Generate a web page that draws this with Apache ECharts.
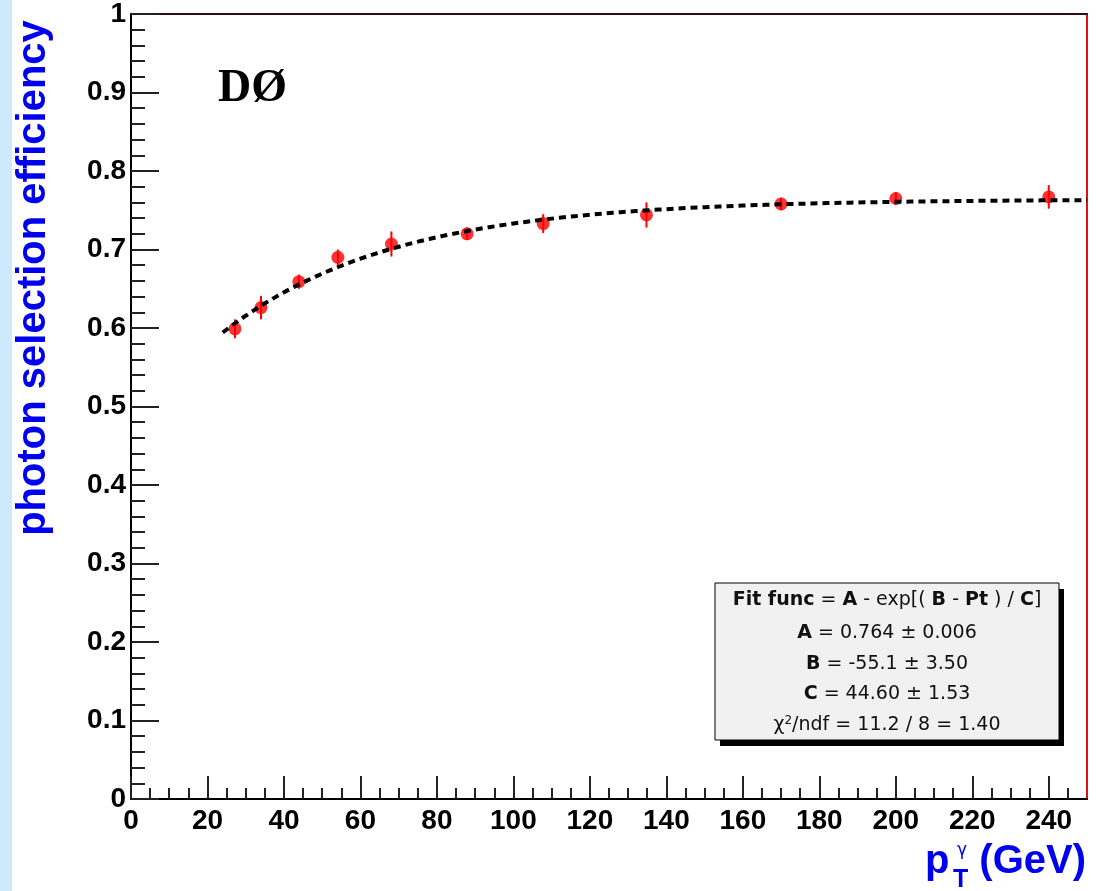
<!DOCTYPE html>
<html>
<head>
<meta charset="utf-8">
<title>Photon selection efficiency vs pT</title>
<script src="https://cdn.jsdelivr.net/npm/echarts@6/dist/echarts.min.js"></script>
<style>
  html, body { margin: 0; padding: 0; background: #ffffff; }
  #chart { width: 1096px; height: 891px; }
</style>
</head>
<body>
<div id="chart"></div>
<script>
// Measured photon selection efficiency per pT bin
const ptValues = [27.2, 34.0, 43.9, 54.1, 68.1, 87.9, 107.8, 134.8, 170.0, 200.0, 240.0];
const effValues = [0.599, 0.626, 0.659, 0.690, 0.707, 0.720, 0.733, 0.744, 0.758, 0.765, 0.767];
const effErrors = [0.012, 0.015, 0.009, 0.010, 0.016, 0.008, 0.012, 0.016, 0.008, 0.008, 0.015];

// Fit result: eff = A - exp((B - Pt) / C)
const fitNames = ['A', 'B', 'C'];
const fitValues = [0.764, -55.1, 44.60];
const fitErrors = ['0.006', '3.50', '1.53'];
const fitValueText = ['0.764', '-55.1', '44.60'];
const fitChi2 = '11.2', fitNdf = '8', fitChi2Ndf = '1.40';
const fitRange = [24, 250];

// Axis ticks
const xMajorTicks = [0, 20, 40, 60, 80, 100, 120, 140, 160, 180, 200, 220, 240];
const yMajorTicks = [0, 0.1, 0.2, 0.3, 0.4, 0.5, 0.6, 0.7, 0.8, 0.9, 1];

const xMinorTicks = [];
for (let v = 5; v < 250; v += 5) if (v % 20 !== 0) xMinorTicks.push(v);
const yMinorTicks = [];
for (let i = 1; i < 50; i++) if (i % 5 !== 0) yMinorTicks.push(+(i * 0.02).toFixed(2));

// Fit curve from the fitted parameters
const [A, B, C] = fitValues;
const fitCurve = [];
for (let x = fitRange[0]; x <= fitRange[1]; x += 2) {
  fitCurve.push([x, A - Math.exp((B - x) / C)]);
}

const points = ptValues.map((x, i) => [x, effValues[i]]);
const errorBars = ptValues.map((x, i) => [x, effValues[i] - effErrors[i], effValues[i] + effErrors[i]]);

const tickFont = { fontFamily: 'Liberation Sans', fontWeight: 'bold', fontSize: 28, color: '#000' };
const tickColor = '#222';

const chart = echarts.init(document.getElementById('chart'), null, { renderer: 'canvas' });

const boxX = 715, boxY = 583, boxW = 344, boxH = 157, boxCx = boxX + boxW / 2;
const statLines = [
  '{b|Fit func} = {b|A} - exp[( {b|B} - {b|Pt} ) / {b|C}]'
].concat(fitNames.map((n, i) => '{b|' + n + '} = ' + fitValueText[i] + ' \u00b1 ' + fitErrors[i]))
 .concat(['\u03c7{sup|2}/ndf = ' + fitChi2 + ' / ' + fitNdf + ' = ' + fitChi2Ndf]);
const statY = [600, 633, 664, 694, 725];
const statRich = {
  b: { fontFamily: 'DejaVu Sans', fontWeight: 'bold', fontSize: 19, fill: '#111' },
  sup: { fontFamily: 'DejaVu Sans', fontSize: 12, fill: '#111', verticalAlign: 'top', padding: [0, 0, 8, 0] }
};

const blue = '#0000f0';

const option = {
  animation: false,
  backgroundColor: '#ffffff',
  grid: {
    left: 131, right: 9, top: 12, bottom: 92,
    show: true, borderColor: '#e01010', borderWidth: 2, backgroundColor: '#ffffff'
  },
  xAxis: [
    {
      type: 'value', min: 0, max: 250, position: 'bottom',
      axisLine: { show: true, onZero: false, lineStyle: { color: '#000', width: 2 } },
      axisTick: { show: true, inside: true, length: 23, customValues: xMajorTicks, lineStyle: { color: tickColor, width: 2 } },
      axisLabel: Object.assign({ customValues: xMajorTicks, margin: 8 }, tickFont),
      splitLine: { show: false }
    },
    {
      type: 'value', min: 0, max: 250, position: 'bottom',
      axisLine: { show: false },
      axisTick: { show: true, inside: true, length: 11, customValues: xMinorTicks, lineStyle: { color: tickColor, width: 2 } },
      axisLabel: { show: false },
      splitLine: { show: false }
    },
    {
      type: 'value', min: 0, max: 250, position: 'top',
      axisLine: { show: true, onZero: false, lineStyle: { color: '#2a1010', width: 2 } },
      axisTick: { show: false }, axisLabel: { show: false }, splitLine: { show: false }
    }
  ],
  yAxis: [
    {
      type: 'value', min: 0, max: 1, position: 'left',
      axisLine: { show: true, onZero: false, lineStyle: { color: '#000', width: 2 } },
      axisTick: { show: true, inside: true, length: 28, customValues: yMajorTicks, lineStyle: { color: tickColor, width: 2 } },
      axisLabel: Object.assign({ customValues: yMajorTicks, margin: 5, formatter: v => String(+v.toFixed(1)) }, tickFont),
      splitLine: { show: false }
    },
    {
      type: 'value', min: 0, max: 1, position: 'left',
      axisLine: { show: false },
      axisTick: { show: true, inside: true, length: 14, customValues: yMinorTicks, lineStyle: { color: tickColor, width: 2 } },
      axisLabel: { show: false },
      splitLine: { show: false }
    }
  ],
  series: [
    {
      type: 'custom',
      name: 'errors',
      xAxisIndex: 0, yAxisIndex: 0,
      data: errorBars,
      z: 3,
      renderItem: function (params, api) {
        const lo = api.coord([api.value(0), api.value(1)]);
        const hi = api.coord([api.value(0), api.value(2)]);
        return {
          type: 'line',
          shape: { x1: lo[0], y1: lo[1], x2: hi[0], y2: hi[1] },
          style: { stroke: '#ff0000', lineWidth: 2 }
        };
      }
    },
    {
      type: 'scatter',
      name: 'efficiency',
      xAxisIndex: 0, yAxisIndex: 0,
      data: points,
      symbol: 'circle', symbolSize: 13,
      itemStyle: { color: '#ff0000' },
      z: 4
    },
    {
      type: 'line',
      name: 'fit',
      xAxisIndex: 0, yAxisIndex: 0,
      data: fitCurve,
      showSymbol: false, symbol: 'none',
      lineStyle: { color: '#000', width: 4, type: [7, 5], cap: 'butt' },
      z: 5
    }
  ],
  graphic: [
    { type: 'rect', shape: { x: 0, y: 0, width: 12, height: 891 }, style: { fill: '#cde9fb' }, z: 0 },
    {
      type: 'text', x: 34, y: 278, rotation: Math.PI / 2,
      style: {
        text: 'photon selection efficiency', align: 'center', verticalAlign: 'middle',
        fontFamily: 'Liberation Sans', fontWeight: 'bold', fontSize: 40, fill: blue
      }
    },
    {
      type: 'text', x: 218, y: 89,
      style: {
        text: 'D\u00d8', align: 'left', verticalAlign: 'middle',
        fontFamily: 'Liberation Serif', fontWeight: 'bold', fontSize: 46, fill: '#000'
      }
    },
    {
      type: 'text', x: 925, y: 862,
      style: { text: 'p', align: 'left', verticalAlign: 'middle', fontFamily: 'Liberation Sans', fontWeight: 'bold', fontSize: 40, fill: blue }
    },
    {
      type: 'text', x: 957, y: 851,
      style: { text: '\u03b3', align: 'left', verticalAlign: 'middle', fontFamily: 'DejaVu Sans', fontSize: 17, fill: blue }
    },
    {
      type: 'text', x: 953, y: 880,
      style: { text: 'T', align: 'left', verticalAlign: 'middle', fontFamily: 'Liberation Sans', fontWeight: 'bold', fontSize: 25, fill: blue }
    },
    {
      type: 'text', x: 1086, y: 862,
      style: { text: '(GeV)', align: 'right', verticalAlign: 'middle', fontFamily: 'Liberation Sans', fontWeight: 'bold', fontSize: 40, fill: blue }
    },
    { type: 'rect', shape: { x: boxX + 5, y: boxY + 6, width: boxW, height: boxH }, style: { fill: '#000' }, z: 50 },
    { type: 'rect', shape: { x: boxX, y: boxY, width: boxW, height: boxH }, style: { fill: '#f1f1f1', stroke: '#000', lineWidth: 1 }, z: 51 }
  ].concat(statLines.map((t, i) => ({
    type: 'text', x: boxCx, y: statY[i], z: 52,
    style: {
      text: t, align: 'center', verticalAlign: 'middle',
      fontFamily: 'DejaVu Sans', fontSize: 19, fill: '#111', rich: statRich
    }
  })))
};

chart.setOption(option);
</script>
</body>
</html>
